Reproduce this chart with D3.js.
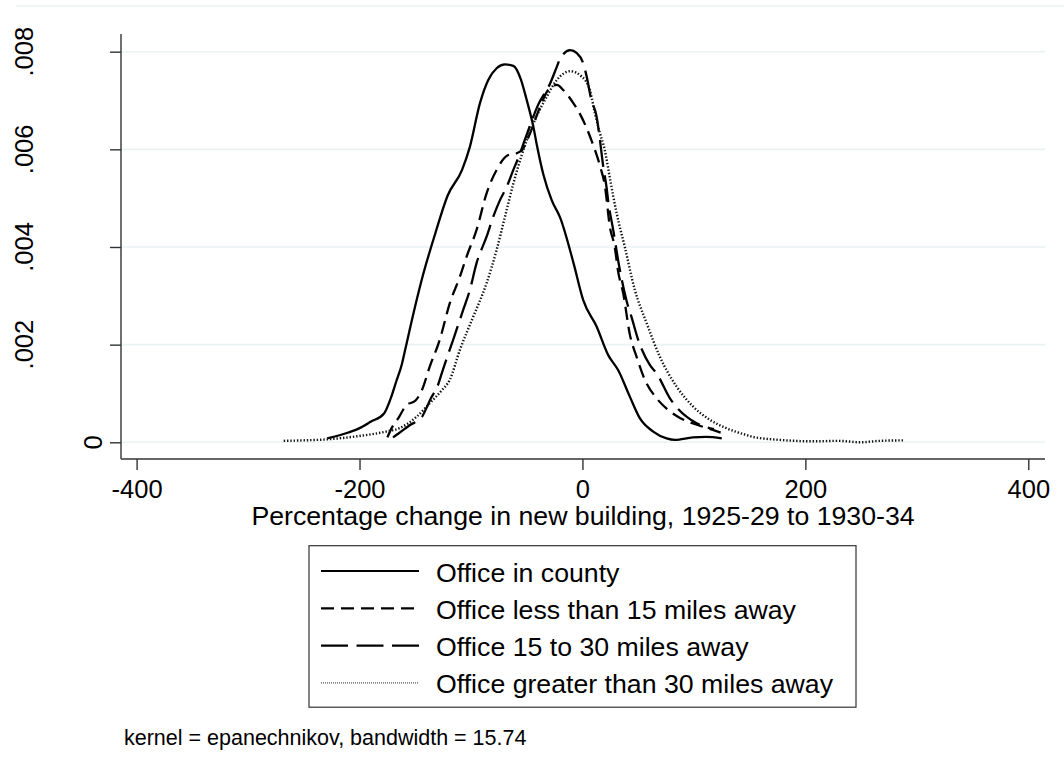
<!DOCTYPE html>
<html><head><meta charset="utf-8">
<script src="https://cdn.jsdelivr.net/npm/d3@7"></script>
<style>body{margin:0;background:#fff}svg{display:block}</style>
</head><body>
<svg id="chart" width="1064" height="772"></svg>
<script>
// ---------- data ----------
const seriesNames = ["Office in county", "Office less than 15 miles away", "Office 15 to 30 miles away", "Office greater than 30 miles away"];
const xTicks = [-400, -200, 0, 200, 400];
const yTicks = [0, 0.002, 0.004, 0.006, 0.008];
const xTitle = "Percentage change in new building, 1925-29 to 1930-34";
const noteText = "kernel = epanechnikov, bandwidth = 15.74";

const inCountyX = [-229,-210,-200,-190,-178,-172,-167,-162,-159,-151,-143,-132,-121,-108,-101,-92,-84.5,-77,-69.5,-62,-55.5,-50,-44,-41,-35,-27.6,-20,-8,0.7,12.7,23,32,42.6,51.6,63.5,75.5,83,99,111,125];
const inCountyY = [0.00008,0.0002,0.00029,0.00042,0.00059,0.0009,0.00125,0.0016,0.0019,0.0027,0.00343,0.00428,0.00505,0.00558,0.00605,0.00694,0.00742,0.00766,0.00774,0.00771,0.00745,0.00701,0.00646,0.0061,0.00548,0.00496,0.0046,0.00367,0.00291,0.00237,0.00179,0.00148,0.00093,0.00049,0.00022,0.00008,0.00005,0.0001,0.00011,0.00008];

const lt15X = [-175,-171,-165,-158,-150,-144,-137,-128,-119,-110,-104,-95,-86,-77,-67,-59,-54,-47,-38,-31,-23,-17,-8,-1,8,16,20,24.7,29,32,36.6,42.6,48.6,56,66.6,76,87.5,104,112,124];
const lt15Y = [0.0001,0.0003,0.0005,0.00076,0.00085,0.00107,0.00155,0.0021,0.00285,0.00339,0.0038,0.00435,0.0051,0.00558,0.00588,0.00592,0.00599,0.00633,0.00687,0.00721,0.00732,0.00721,0.00694,0.00667,0.00619,0.00564,0.00527,0.0044,0.004,0.0035,0.00305,0.0022,0.00175,0.00128,0.0009,0.00068,0.0005,0.00035,0.00029,0.0002];

const m15to30X = [-170,-165,-155,-144,-140,-136,-130,-125,-116,-107,-101,-95,-86,-80,-74,-68,-62,-57.6,-50,-40,-29,-23,-20,-11,-5,0.7,3.8,8,12.7,15.7,18.7,21.7,23,27.6,33,39.8,44,50,60.6,66.6,78.5,83,102.5,118];
const m15to30Y = [0.0001,0.00018,0.00035,0.00052,0.0007,0.0009,0.00115,0.0015,0.0021,0.00271,0.00312,0.00367,0.00421,0.00462,0.00496,0.00523,0.00558,0.00582,0.0063,0.0069,0.00735,0.00769,0.00786,0.00803,0.00797,0.00776,0.00749,0.00701,0.00667,0.00619,0.00564,0.00521,0.00496,0.00435,0.0036,0.00288,0.00257,0.0021,0.00158,0.00141,0.0009,0.00076,0.00039,0.00027];

const gt30X = [-268,-250,-229.5,-200,-176,-164,-149,-137,-126,-119,-110,-98,-86,-77,-69.5,-62,-54.5,-44,-32,-23,-11,-0.7,6.7,11.2,15.7,20,24.7,30.7,38,47,57.6,69.5,84.5,99.4,114.4,129,147,153,177,207,230,249,267,288];
const gt30Y = [0.00003,0.00004,0.00006,0.00013,0.00022,0.00029,0.00052,0.0008,0.00107,0.00128,0.00189,0.00257,0.00326,0.00394,0.00462,0.0053,0.00588,0.00653,0.00708,0.00742,0.0076,0.00749,0.00721,0.00674,0.00633,0.00599,0.0054,0.00469,0.004,0.00312,0.00244,0.00175,0.00114,0.00073,0.00046,0.00029,0.00015,0.00011,0.00005,0.00002,0.00003,0.0,0.00003,0.00004];

// ---------- styles ----------
const FONT = "'Liberation Sans', Arial, Helvetica, sans-serif";
const styles = [
  {dash: null, w: 2.3, lw: 2.2, ldash: null, col: "#000", lcol: "#000"},
  {dash: "13,7", w: 2.3, lw: 2.2, ldash: "13,7", col: "#000", lcol: "#000"},
  {dash: "27,8.5", w: 2.3, lw: 2.2, ldash: "27,8.5", col: "#000", lcol: "#000"},
  {dash: "1.4,1.9", w: 2.4, lw: 1.1, ldash: "1,1", col: "#111", lcol: "#555"}
];
const series = [
  {name: seriesNames[0], xs: inCountyX, ys: inCountyY},
  {name: seriesNames[1], xs: lt15X, ys: lt15Y},
  {name: seriesNames[2], xs: m15to30X, ys: m15to30Y},
  {name: seriesNames[3], xs: gt30X, ys: gt30Y}
];

const svg = d3.select("#chart");
const plotL = 121, plotR = 1045, plotT = 34, plotB = 459;
const x = d3.scaleLinear().domain([-414, 415]).range([plotL, plotR]);
const y = d3.scaleLinear().domain([-0.000342, 0.008362]).range([plotB, plotT]);

// top outer border line
svg.append("line").attr("x1", 16).attr("x2", 1064).attr("y1", 5.7).attr("y2", 5.7)
  .attr("stroke", "#eaf2f3").attr("stroke-width", 1.5);

// gridlines
svg.append("g").selectAll("line").data(yTicks).join("line")
  .attr("x1", plotL).attr("x2", plotR)
  .attr("y1", d => y(d)).attr("y2", d => y(d))
  .attr("stroke", "#eaf2f3").attr("stroke-width", 1.6);

// curves
const line = d3.line().x(d => x(d[0])).y(d => y(d[1])).curve(d3.curveMonotoneX);
series.forEach((s, i) => {
  const pts = s.xs.map((v, j) => [v, s.ys[j]]);
  svg.append("path").datum(pts).attr("d", line)
    .attr("fill", "none").attr("stroke", styles[i].col)
    .attr("stroke-width", styles[i].w)
    .attr("stroke-dasharray", styles[i].dash)
    .attr("stroke-linejoin", "round");
});

// axes
const fmtY = d => d === 0 ? "0" : d3.format(".3f")(d).replace(/^0/, "");
const fmtX = d => String(d);
const xAxis = svg.append("g").attr("transform", `translate(0,${plotB})`)
  .call(d3.axisBottom(x).tickValues(xTicks).tickSize(11).tickSizeOuter(0).tickFormat(fmtX));
xAxis.selectAll("text").attr("y", 39).attr("dy", 0)
  .attr("font-family", FONT).attr("font-size", 25.5).attr("fill", "#000");
const yAxis = svg.append("g").attr("transform", `translate(${plotL},0)`)
  .call(d3.axisLeft(y).tickValues(yTicks).tickSize(11).tickSizeOuter(0).tickFormat(fmtY));
yAxis.selectAll("text").remove();
[xAxis, yAxis].forEach(a => {
  a.select(".domain").attr("stroke", "#333").attr("stroke-width", 1.4);
  a.selectAll(".tick line").attr("stroke", "#333").attr("stroke-width", 1.4);
});
xAxis.select(".domain").attr("d", `M${plotL},0H${plotR}`);
yAxis.select(".domain").attr("d", `M0,${plotT}V${plotB}`);

// vertical y tick labels (Stata-style placement)
const yl = svg.append("g");
yTicks.forEach(t => {
  const txt = yl.append("text").text(fmtY(t))
    .attr("font-family", FONT).attr("font-size", 25.5).attr("text-anchor", "middle").attr("fill", "#000");
  const len = txt.node().getComputedTextLength();
  const cx = 120 - 1.93 * len;
  txt.attr("transform", `translate(${cx + 9},${y(t)}) rotate(-90)`);
});

// axis title
svg.append("text").text(xTitle).attr("x", (plotL + plotR) / 2).attr("y", 525)
  .attr("text-anchor", "middle").attr("font-family", FONT).attr("font-size", 26.7).attr("fill", "#000");

// legend
const lg = svg.append("g");
lg.append("rect").attr("x", 309).attr("y", 545.7).attr("width", 547).attr("height", 161.5)
  .attr("fill", "#fff").attr("stroke", "#333").attr("stroke-width", 1.2);
series.forEach((s, i) => {
  const by = 581.5 + i * 37.3;
  lg.append("line").attr("x1", 321).attr("x2", 419).attr("y1", by - 10.5).attr("y2", by - 10.5)
    .attr("stroke", styles[i].lcol).attr("stroke-width", styles[i].lw)
    .attr("stroke-dasharray", styles[i].ldash);
  lg.append("text").text(s.name).attr("x", 436).attr("y", by)
    .attr("font-family", FONT).attr("font-size", 26.7).attr("fill", "#000");
});

// note
svg.append("text").text(noteText).attr("x", 124).attr("y", 745)
  .attr("font-family", FONT).attr("font-size", 21.5).attr("fill", "#000");
</script>
</body></html>
